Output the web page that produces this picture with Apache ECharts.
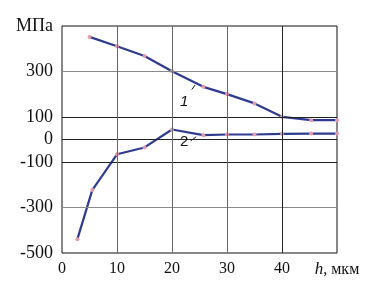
<!DOCTYPE html>
<html><head><meta charset="utf-8">
<script src="https://cdn.jsdelivr.net/npm/echarts@6/dist/echarts.min.js"></script>
<style>html,body{margin:0;padding:0;background:#fff}#c{width:378px;height:290px}</style>
</head><body><div id="c"></div>
<script>
// Data
const x1 = [5, 10, 15, 20, 25.7, 30, 35, 40, 45.3, 50];
const y1 = [452, 411, 368, 301, 232, 200, 159, 100, 85, 85];
const x2 = [2.8, 5.5, 10, 15, 20, 25.7, 30, 35, 40, 45.3, 50];
const y2 = [-439, -223, -65, -35, 44, 19, 22, 22, 25, 26, 26];
const xTicks = [0, 10, 20, 30, 40];
const yTicks = [-500, -300, -100, 0, 100, 300];
const yGridDark = [100, 0, -100];
const yGridLight = [300, -300];
const xGridDark = [40];
const xGridLight = [10, 20, 30];
const xName = 'h';
const xUnit = ', мкм';
const yName = 'МПа';
const label1 = {text: '1', italic: true, at: [22.2, 166], tick: [[23.6, 220], [24.2, 240]]};
const label2 = {text: '2', italic: false, at: [22.2, -11], tick: [[23.4, -6], [24.4, 12]]};

const serif = "'Liberation Serif','Times New Roman',serif";
const pairs = (xs, ys) => xs.map((v, i) => [v, ys[i]]);

const gridLines = [];
yGridDark.forEach(v => gridLines.push({yAxis: v, lineStyle: {color: '#222'}}));
yGridLight.forEach(v => gridLines.push({yAxis: v, lineStyle: {color: '#8a8a8a'}}));
xGridDark.forEach(v => gridLines.push({xAxis: v, lineStyle: {color: '#222'}}));
xGridLight.forEach(v => gridLines.push({xAxis: v, lineStyle: {color: '#666'}}));

const lineStyle = {color: '#2e3b8f', width: 2.2};
const itemStyle = {color: '#e39ab0'};

function annot(l) {
  return {
    markPoint: {
      symbol: 'circle', symbolSize: 0, silent: true,
      label: {show: true, formatter: l.text, fontFamily: 'Arial, Liberation Sans, sans-serif', fontStyle: l.italic ? 'italic' : 'normal', fontSize: 15, color: '#111'},
      data: [{coord: l.at}]
    },
    markLine: {
      symbol: 'none', silent: true, animation: false,
      label: {show: false},
      lineStyle: {color: '#111', width: 1, type: 'solid'},
      data: [[{coord: l.tick[0]}, {coord: l.tick[1]}]]
    }
  };
}

const chart = echarts.init(document.getElementById('c'));
chart.setOption({
  animation: false,
  grid: {left: 62, right: 41, top: 26, bottom: 37, show: true, borderColor: '#111', borderWidth: 1},
  xAxis: {
    type: 'value', min: 0, max: 50, interval: 10,
    axisLine: {show: false}, axisTick: {show: false}, splitLine: {show: false},
    axisLabel: {
      margin: 8, color: '#111', fontFamily: serif, fontSize: 16, showMaxLabel: true,
      formatter: v => v === 50 ? '{i|' + xName + '}' + xUnit : (xTicks.includes(v) ? String(v) : ''),
      rich: {i: {fontStyle: 'italic', fontFamily: serif, fontSize: 17, color: '#111'}}
    }
  },
  yAxis: {
    type: 'value', min: -500, max: 500, interval: 100,
    axisLine: {show: false}, axisTick: {show: false}, splitLine: {show: false},
    axisLabel: {
      margin: 9, color: '#111', fontFamily: serif, fontSize: 18, showMaxLabel: true,
      formatter: v => v === 500 ? yName : (yTicks.includes(v) ? String(v) : '')
    }
  },
  series: [
    {type: 'line', data: [], silent: true, z: 1,
     markLine: {symbol: 'none', silent: true, label: {show: false}, lineStyle: {width: 1, type: 'solid'}, data: gridLines}},
    Object.assign({type: 'line', data: pairs(x1, y1), symbol: 'circle', symbolSize: 4, lineStyle, itemStyle, z: 3}, annot(label1)),
    Object.assign({type: 'line', data: pairs(x2, y2), symbol: 'circle', symbolSize: 4, lineStyle, itemStyle, z: 3}, annot(label2))
  ]
});
</script></body></html>
